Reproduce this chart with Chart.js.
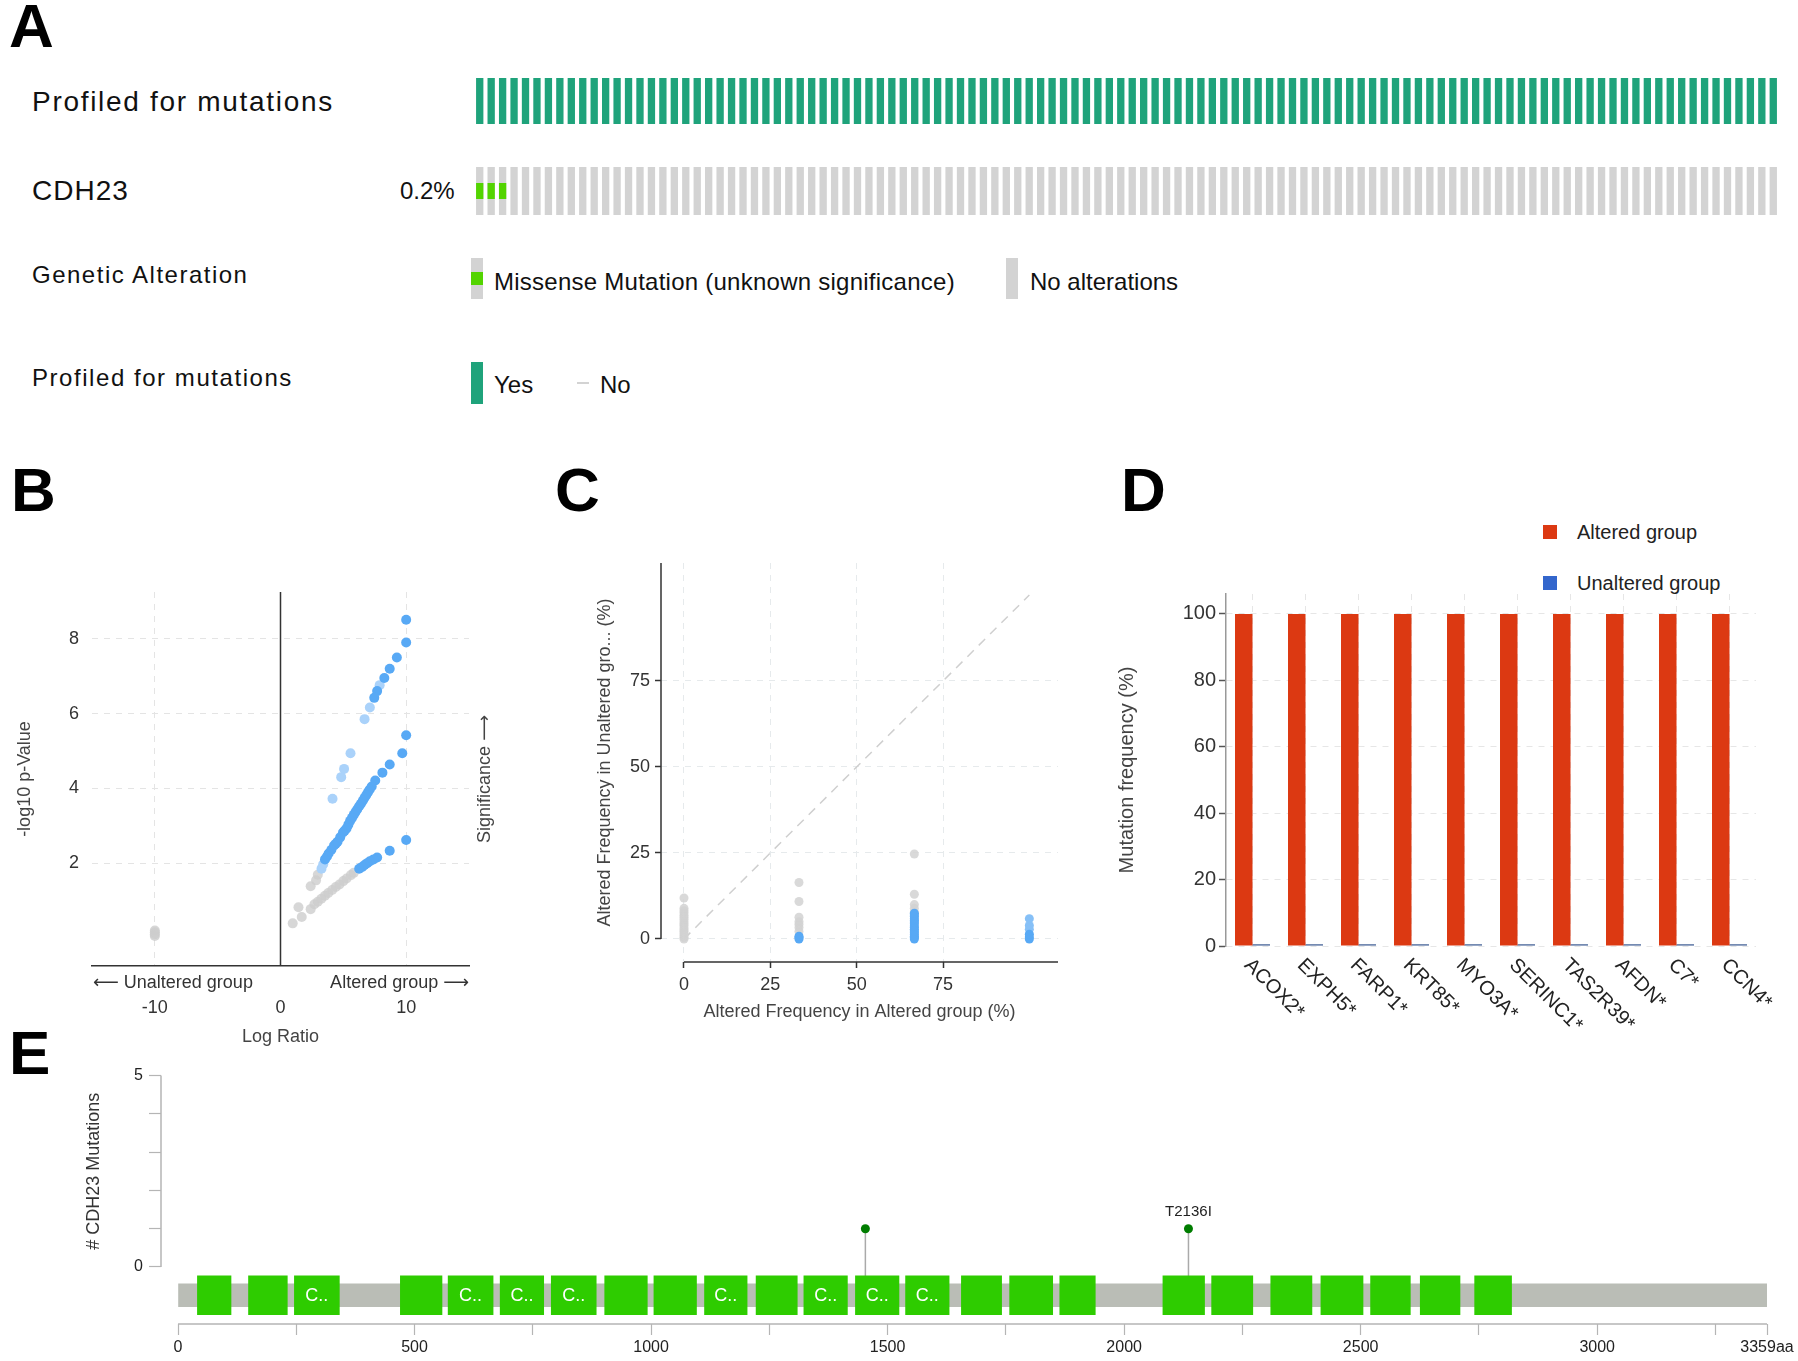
<!DOCTYPE html>
<html lang="en">
<head>
<meta charset="UTF-8">
<title>CDH23 alteration summary</title>
<script src="https://cdn.jsdelivr.net/npm/chart.js@4.4.1/dist/chart.umd.min.js"></script>
<style>
    body {
        margin: 0;
        width: 1798px;
        height: 1361px;
        position: relative;
        overflow: hidden;
        background: #fff;
        font-family: 'Liberation Sans', Arial, sans-serif;
        color: #111;
    }
    .txt { position: absolute; line-height: 1; white-space: nowrap; }
    .panel { position: absolute; line-height: 1; font-size: 62px; font-weight: bold; color: #000; }
    .box { position: absolute; }
    .plot { position: absolute; }
</style>
</head>
<body>
<div class="panel" style="left:9px;top:-5px">A</div>
<div class="panel" style="left:11px;top:459px">B</div>
<div class="panel" style="left:555px;top:459px">C</div>
<div class="panel" style="left:1121px;top:459px">D</div>
<div class="panel" style="left:9px;top:1022px">E</div>

<!-- panel A track labels and legend -->
<div class="txt" style="left:32px;top:88px;font-size:28px;letter-spacing:1.7px">Profiled for mutations</div>
<div class="txt" style="left:32px;top:177px;font-size:28px;letter-spacing:1px">CDH23</div>
<div class="txt" style="left:400px;top:179px;font-size:24px">0.2%</div>
<div class="txt" style="left:32px;top:263px;font-size:24px;letter-spacing:1.5px">Genetic Alteration</div>
<div class="txt" style="left:32px;top:366px;font-size:24px;letter-spacing:1.55px">Profiled for mutations</div>

<div class="box" style="left:471px;top:258px;width:12px;height:41px;background:#d3d3d3"></div>
<div class="box" style="left:471px;top:272px;width:12px;height:13px;background:#53d400"></div>
<div class="txt" style="left:494px;top:270px;font-size:24px;letter-spacing:0.25px">Missense Mutation (unknown significance)</div>
<div class="box" style="left:1006px;top:258px;width:12px;height:41px;background:#d3d3d3"></div>
<div class="txt" style="left:1030px;top:270px;font-size:24px">No alterations</div>

<div class="box" style="left:471px;top:362px;width:12px;height:42px;background:#1fa37b"></div>
<div class="txt" style="left:494px;top:373px;font-size:24px">Yes</div>
<div class="box" style="left:577px;top:382px;width:12px;height:2px;background:#d3d3d3"></div>
<div class="txt" style="left:600px;top:373px;font-size:24px">No</div>

<!-- panel D legend -->
<div class="box" style="left:1543px;top:525px;width:14px;height:14px;background:#dc3912"></div>
<div class="txt" style="left:1577px;top:522px;font-size:20px;color:#222">Altered group</div>
<div class="box" style="left:1543px;top:576px;width:14px;height:14px;background:#3366cc"></div>
<div class="txt" style="left:1577px;top:573px;font-size:20px;color:#222">Unaltered group</div>

<div class="plot" style="left:470px;top:70px;width:1320px;height:160px"><canvas id="oncoprint"></canvas></div>
<div class="plot" style="left:0px;top:560px;width:520px;height:500px"><canvas id="volcano"></canvas></div>
<div class="plot" style="left:540px;top:540px;width:540px;height:520px"><canvas id="freqScatter"></canvas></div>
<div class="plot" style="left:1090px;top:560px;width:708px;height:500px"><canvas id="enrichBars"></canvas></div>
<div class="plot" style="left:0px;top:1060px;width:1798px;height:301px"><canvas id="lollipop"></canvas></div>

<script>
    // ---- A: oncoprint ----
    const sampleCount = 114;
    const missenseSamples = [0, 1, 2];

    // ---- B: volcano (log ratio, -log10 p) ----
    const volcanoSig = [
        {x: 10, y: 8.51}, {x: 10, y: 7.90}, {x: 9.26, y: 7.50}, {x: 8.69, y: 7.20}, {x: 8.26, y: 6.95},
        {x: 7.69, y: 6.60}, {x: 7.46, y: 6.42},
        {x: 10, y: 5.42}, {x: 9.69, y: 4.94}, {x: 8.69, y: 4.64}, {x: 8.11, y: 4.42}, {x: 7.54, y: 4.21},
        {x: 7.26, y: 4.05}, {x: 7.10, y: 3.97}, {x: 6.97, y: 3.90}, {x: 6.83, y: 3.82}, {x: 6.69, y: 3.75},
        {x: 6.55, y: 3.67}, {x: 6.40, y: 3.59}, {x: 6.26, y: 3.52}, {x: 6.11, y: 3.44}, {x: 5.97, y: 3.37},
        {x: 5.83, y: 3.29}, {x: 5.69, y: 3.21}, {x: 5.54, y: 3.13}, {x: 5.40, y: 3.03}, {x: 5.26, y: 2.93},
        {x: 5.11, y: 2.87}, {x: 4.97, y: 2.82}, {x: 4.75, y: 2.69}, {x: 4.54, y: 2.57}, {x: 4.40, y: 2.52},
        {x: 4.26, y: 2.47}, {x: 4.05, y: 2.36}, {x: 3.83, y: 2.26}, {x: 3.70, y: 2.18}, {x: 3.54, y: 2.10},
        {x: 10, y: 2.62}, {x: 8.69, y: 2.33}, {x: 7.69, y: 2.15}, {x: 7.40, y: 2.10}, {x: 7.11, y: 2.05},
        {x: 6.90, y: 2.00}, {x: 6.69, y: 1.95}, {x: 6.50, y: 1.90}, {x: 6.26, y: 1.85}
    ];
    const volcanoWeak = [
        {x: 7.89, y: 6.76}, {x: 7.11, y: 6.16}, {x: 6.69, y: 5.85}, {x: 5.57, y: 4.94}, {x: 5.06, y: 4.52},
        {x: 4.83, y: 4.30}, {x: 4.14, y: 3.72}, {x: 3.40, y: 1.97}, {x: 3.26, y: 1.85}
    ];
    const volcanoNs = [
        {x: 2.97, y: 1.69}, {x: 2.83, y: 1.54}, {x: 2.40, y: 1.38},
        {x: 5.83, y: 1.74}, {x: 5.60, y: 1.68}, {x: 5.26, y: 1.59}, {x: 5.00, y: 1.52}, {x: 4.69, y: 1.43},
        {x: 4.40, y: 1.36}, {x: 4.11, y: 1.28}, {x: 3.80, y: 1.20}, {x: 3.54, y: 1.13}, {x: 3.25, y: 1.05},
        {x: 2.97, y: 0.97}, {x: 2.70, y: 0.90}, {x: 2.40, y: 0.77}, {x: 1.43, y: 0.82}, {x: 1.69, y: 0.56},
        {x: 0.97, y: 0.39},
        {x: -10, y: 0.05}, {x: -10, y: 0.10}, {x: -10, y: 0.15}, {x: -10, y: 0.20}
    ];
    const volcanoXTicks = [-10, 0, 10];
    const volcanoYTicks = [2, 4, 6, 8];

    // ---- C: altered freq in altered vs unaltered group (%) ----
    const freqGray = [
        {x: 0, y: 0}, {x: 0, y: 0.4}, {x: 0, y: 0.9}, {x: 0, y: 1.5}, {x: 0, y: 2.1}, {x: 0, y: 2.6},
        {x: 0, y: 3.2}, {x: 0, y: 3.9}, {x: 0, y: 4.4}, {x: 0, y: 5.0}, {x: 0, y: 5.7}, {x: 0, y: 6.3},
        {x: 0, y: 6.9}, {x: 0, y: 7.6}, {x: 0, y: 8.2}, {x: 0, y: 8.9}, {x: 0, y: 11.9},
        {x: 33.3, y: 2.2}, {x: 33.3, y: 3.3}, {x: 33.3, y: 4.2}, {x: 33.3, y: 5.0}, {x: 33.3, y: 6.3},
        {x: 33.3, y: 10.9}, {x: 33.3, y: 16.4},
        {x: 66.7, y: 7.8}, {x: 66.7, y: 8.9}, {x: 66.7, y: 10.0}, {x: 66.7, y: 13.0}, {x: 66.7, y: 24.7}
    ];
    const freqSig = [
        {x: 33.3, y: 0}, {x: 33.3, y: 0.4}, {x: 33.3, y: 0.8},
        {x: 66.7, y: 0}, {x: 66.7, y: 0.4}, {x: 66.7, y: 0.8}, {x: 66.7, y: 1.3}, {x: 66.7, y: 1.8},
        {x: 66.7, y: 2.3}, {x: 66.7, y: 2.8}, {x: 66.7, y: 3.3}, {x: 66.7, y: 3.8}, {x: 66.7, y: 4.4},
        {x: 66.7, y: 4.9}, {x: 66.7, y: 5.4}, {x: 66.7, y: 5.9}, {x: 66.7, y: 6.5}, {x: 66.7, y: 7.0},
        {x: 66.7, y: 7.5},
        {x: 100, y: 0}, {x: 100, y: 0.55}, {x: 100, y: 1.4}
    ];
    const freqWeak = [{x: 100, y: 2.8}, {x: 100, y: 3.9}, {x: 100, y: 5.9}];
    const freqTicks = [0, 25, 50, 75];
    const diagonalRange = [0, 100];

    // ---- D: enrichment bars ----
    const genes = ['ACOX2*', 'EXPH5*', 'FARP1*', 'KRT85*', 'MYO3A*', 'SERINC1*', 'TAS2R39*', 'AFDN*', 'C7*', 'CCN4*'];
    const alteredFreq = [100, 100, 100, 100, 100, 100, 100, 100, 100, 100];
    const unalteredFreq = [0.5, 0.5, 0.5, 0.5, 0.5, 0.5, 0.5, 0.5, 0.5, 0.5];
    const enrichTicks = [0, 20, 40, 60, 80, 100];

    // ---- E: CDH23 lollipop ----
    const proteinLength = 3359;
    const mutationPos = [1453, 2136];
    const mutationCount = [1, 1];
    const mutationLabels = ['', 'T2136I'];
    const domainStart = [41, 149, 246, 470, 571, 681, 789, 902, 1006, 1113, 1222, 1323, 1432, 1538,
        1656, 1758, 1864, 2082, 2185, 2310, 2416, 2521, 2626, 2741];
    const domainEnd = [112, 231, 341, 558, 666, 773, 884, 992, 1096, 1203, 1309, 1415, 1524, 1630,
        1741, 1849, 1939, 2170, 2272, 2397, 2505, 2605, 2710, 2819];
    const domainLabels = ['', '', 'C..', '', 'C..', 'C..', 'C..', '', '', 'C..', '', 'C..', 'C..', 'C..',
        '', '', '', '', '', '', '', '', '', ''];
    const lollipopXTicks = [0, 250, 500, 750, 1000, 1250, 1500, 1750, 2000, 2250, 2500, 2750, 3000, 3250, 3359];
    const lollipopYTicks = [0, 1, 2, 3, 4, 5];

    const SANS = "'Liberation Sans', Arial, 'DejaVu Sans', sans-serif";

    Chart.defaults.font.family = SANS;
    Chart.defaults.color = '#333';
    Chart.defaults.animation = false;
    Chart.defaults.maintainAspectRatio = false;
    Chart.defaults.plugins.legend.display = false;
    Chart.defaults.plugins.tooltip.enabled = false;

    const fixTicks = list => scale => { scale.ticks = list.map(v => ({value: v})); };

    // ---------- A ----------
    const sampleLabels = Array.from({length: sampleCount}, (_, i) => 'S' + (i + 1));
    // track rows in a 0..137 band (top to bottom)
    const rowProfiled = [0, 46];
    const rowGene = [89, 137];
    const rowMissense = [105, 121];

    new Chart(document.getElementById('oncoprint'), {
        type: 'bar',
        data: {
            labels: sampleLabels,
            datasets: [
                {data: sampleLabels.map((_, i) => missenseSamples.includes(i) ? rowMissense : null), backgroundColor: '#53d400'},
                {data: sampleLabels.map(() => rowGene), backgroundColor: '#d3d3d3'},
                {data: sampleLabels.map(() => rowProfiled), backgroundColor: '#1fa37b'}
            ]
        },
        options: {
            layout: {padding: {left: 4, right: 11, top: 8, bottom: 15}},
            datasets: {bar: {grouped: false, barPercentage: 0.64, categoryPercentage: 1, borderWidth: 0}},
            scales: {
                x: {display: false},
                y: {display: false, reverse: true, min: 0, max: 137}
            }
        }
    });

    // ---------- B ----------
    const volcanoExtras = {
        id: 'volcanoExtras',
        beforeDatasetsDraw(chart) {
            const {ctx, chartArea: a, scales: {x}} = chart;
            const x0 = x.getPixelForValue(0);
            ctx.save();
            ctx.strokeStyle = '#333';
            ctx.lineWidth = 1.5;
            ctx.beginPath();
            ctx.moveTo(x0, a.top);
            ctx.lineTo(x0, a.bottom);
            ctx.stroke();
            ctx.restore();
        },
        afterDraw(chart) {
            const {ctx, chartArea: a} = chart;
            ctx.save();
            ctx.fillStyle = '#333';
            ctx.font = '18px ' + SANS;
            ctx.textBaseline = 'middle';
            ctx.textAlign = 'left';
            ctx.fillText('\u27F5 Unaltered group', a.left + 1, a.bottom + 17);
            ctx.textAlign = 'right';
            ctx.fillText('Altered group \u27F6', a.right, a.bottom + 17);
            ctx.translate(a.right + 16, (a.top + a.bottom) / 2);
            ctx.rotate(-Math.PI / 2);
            ctx.textAlign = 'center';
            ctx.fillStyle = '#444';
            ctx.fillText('Significance \u27F6', 0, 0);
            ctx.restore();
        }
    };

    new Chart(document.getElementById('volcano'), {
        type: 'scatter',
        data: {
            datasets: [
                {data: volcanoSig, backgroundColor: '#58a9f5'},
                {data: volcanoWeak, backgroundColor: '#aad2fa'},
                {data: volcanoNs, backgroundColor: 'rgba(205,205,205,0.8)'}
            ]
        },
        options: {
            layout: {padding: {top: 32, right: 51}},
            elements: {point: {radius: 5, borderWidth: 0}},
            scales: {
                x: {
                    type: 'linear', min: -15, max: 15,
                    afterBuildTicks: fixTicks(volcanoXTicks),
                    afterFit: s => { s.height = 94; },
                    grid: {color: '#e4e4e4', drawTicks: false},
                    border: {display: true, color: '#333', width: 1.5, dash: [6, 6]},
                    ticks: {padding: 31, font: {size: 18}, color: '#333'},
                    title: {display: true, text: 'Log Ratio', font: {size: 18}, color: '#444', padding: {bottom: 12}}
                },
                y: {
                    min: -0.75, max: 9.25,
                    afterBuildTicks: fixTicks(volcanoYTicks),
                    afterFit: s => { s.width = 92; },
                    grid: {color: '#e4e4e4', drawTicks: false},
                    border: {display: false, dash: [6, 6]},
                    ticks: {padding: 13, font: {size: 18}, color: '#333'},
                    title: {display: true, text: '-log10 p-Value', font: {size: 18}, color: '#444', padding: {top: 14}}
                }
            }
        },
        plugins: [volcanoExtras]
    });

    // ---------- C ----------
    const offsetAxes = {
        id: 'offsetAxes',
        afterDraw(chart) {
            const {ctx, chartArea: a, scales: {x, y}} = chart;
            ctx.save();
            ctx.strokeStyle = '#333';
            ctx.lineWidth = 1.5;
            ctx.beginPath();
            ctx.moveTo(a.left, a.top);
            ctx.lineTo(a.left, y.getPixelForValue(0));
            ctx.moveTo(x.getPixelForValue(0), a.bottom);
            ctx.lineTo(a.right, a.bottom);
            ctx.stroke();
            ctx.restore();
        }
    };

    new Chart(document.getElementById('freqScatter'), {
        type: 'scatter',
        data: {
            datasets: [
                {data: freqSig, backgroundColor: '#58a9f5'},
                {data: freqWeak, backgroundColor: '#86c0f7'},
                {data: freqGray, backgroundColor: 'rgba(210,210,210,0.85)'},
                {
                    type: 'line',
                    data: diagonalRange.map(v => ({x: v, y: v})),
                    borderColor: '#cfcfcf', borderWidth: 1.5, borderDash: [9, 7], pointRadius: 0, fill: false
                }
            ]
        },
        options: {
            layout: {padding: {top: 23, right: 22}},
            elements: {point: {radius: 4.5, borderWidth: 0}},
            scales: {
                x: {
                    type: 'linear', min: -6.66, max: 108.3,
                    afterBuildTicks: fixTicks(freqTicks),
                    afterFit: s => { s.height = 98; },
                    grid: {color: '#e6eaec', tickColor: '#333', tickLength: 6, tickWidth: 1.5},
                    border: {display: false, dash: [6, 6]},
                    ticks: {padding: 6, font: {size: 18}, color: '#333'},
                    title: {display: true, text: 'Altered Frequency in Altered group (%)', font: {size: 18}, color: '#444', padding: {bottom: 37}}
                },
                y: {
                    min: -6.7, max: 109.3,
                    afterBuildTicks: fixTicks(freqTicks),
                    afterFit: s => { s.width = 121; },
                    grid: {color: '#e6eaec', tickColor: '#333', tickLength: 6, tickWidth: 1.5},
                    border: {display: false, dash: [6, 6]},
                    ticks: {padding: 5, font: {size: 18}, color: '#333'},
                    title: {display: true, text: 'Altered Frequency in Unaltered gro... (%)', font: {size: 18}, color: '#444', padding: {top: 54}}
                }
            }
        },
        plugins: [offsetAxes]
    });

    // ---------- D ----------
    const slantLabels = {
        id: 'slantLabels',
        afterDraw(chart) {
            const {ctx, chartArea: a, scales: {x}} = chart;
            ctx.save();
            ctx.fillStyle = '#222';
            ctx.font = '20px ' + SANS;
            ctx.textAlign = 'left';
            ctx.textBaseline = 'top';
            genes.forEach((g, i) => {
                ctx.save();
                ctx.translate(x.getPixelForValue(i) + 2, a.bottom + 9);
                ctx.rotate(Math.PI / 4);
                ctx.fillText(g, 0, 0);
                ctx.restore();
            });
            ctx.restore();
        }
    };

    new Chart(document.getElementById('enrichBars'), {
        type: 'bar',
        data: {
            labels: genes,
            datasets: [
                {label: 'Altered group', data: alteredFreq, backgroundColor: '#dc3912'},
                {label: 'Unaltered group', data: unalteredFreq, backgroundColor: '#2e4f8a'}
            ]
        },
        options: {
            layout: {padding: {top: 34, right: 42}},
            datasets: {bar: {barPercentage: 1, categoryPercentage: 0.66, borderWidth: 0}},
            scales: {
                x: {
                    afterFit: s => { s.height = 114; },
                    grid: {color: '#e6e6e6', offset: false, drawTicks: false},
                    border: {display: false, dash: [6, 6]},
                    ticks: {display: false}
                },
                y: {
                    min: 0, max: 106,
                    afterBuildTicks: fixTicks(enrichTicks),
                    afterFit: s => { s.width = 136; },
                    grid: {color: '#e6e6e6', tickColor: '#555', tickLength: 7, tickWidth: 1.5},
                    border: {display: true, color: '#999', width: 1.5, dash: [6, 6]},
                    ticks: {padding: 3, font: {size: 20}, color: '#333'},
                    title: {display: true, text: 'Mutation frequency (%)', font: {size: 20}, color: '#444', padding: {top: 25}}
                }
            }
        },
        plugins: [slantLabels]
    });

    // ---------- E ----------
    const trackLevel = -0.74;
    const domainThickness = 39;

    const lollipopExtras = {
        id: 'lollipopExtras',
        beforeDatasetsDraw(chart) {
            const {ctx, scales: {y}} = chart;
            const base = y.getPixelForValue(trackLevel);
            const points = chart.getDatasetMeta(0).data;
            ctx.save();
            ctx.strokeStyle = '#aaa';
            ctx.lineWidth = 1.5;
            points.forEach(p => {
                ctx.beginPath();
                ctx.moveTo(p.x, p.y);
                ctx.lineTo(p.x, base);
                ctx.stroke();
            });
            ctx.restore();
        },
        afterDraw(chart) {
            const {ctx, chartArea: a, scales: {x, y}} = chart;
            ctx.save();
            // axis lines
            ctx.strokeStyle = '#b5b5b5';
            ctx.lineWidth = 1.5;
            ctx.beginPath();
            ctx.moveTo(a.left, y.getPixelForValue(0));
            ctx.lineTo(a.left, y.getPixelForValue(5));
            ctx.moveTo(x.getPixelForValue(0), a.bottom);
            ctx.lineTo(x.getPixelForValue(proteinLength), a.bottom);
            ctx.stroke();
            // domain labels
            ctx.fillStyle = '#fff';
            ctx.font = '18px ' + SANS;
            ctx.textAlign = 'center';
            ctx.textBaseline = 'middle';
            chart.getDatasetMeta(1).data.forEach((bar, i) => {
                if (domainLabels[i]) ctx.fillText(domainLabels[i], (bar.x + bar.base) / 2, bar.y + 1);
            });
            // mutation labels
            ctx.fillStyle = '#222';
            ctx.font = '15px ' + SANS;
            ctx.textBaseline = 'alphabetic';
            chart.getDatasetMeta(0).data.forEach((p, i) => {
                if (mutationLabels[i]) ctx.fillText(mutationLabels[i], p.x, p.y - 13);
            });
            // y title
            ctx.fillStyle = '#333';
            ctx.font = '18px ' + SANS;
            ctx.translate(94, y.getPixelForValue(2.5));
            ctx.rotate(-Math.PI / 2);
            ctx.textBaseline = 'middle';
            ctx.fillText('# CDH23 Mutations', 0, 0);
            ctx.restore();
        }
    };

    new Chart(document.getElementById('lollipop'), {
        type: 'scatter',
        data: {
            datasets: [
                {
                    data: mutationPos.map((p, i) => ({x: p, y: mutationCount[i]})),
                    backgroundColor: '#007d00', pointRadius: 4.5, borderWidth: 0
                },
                {
                    type: 'bar', indexAxis: 'y', grouped: false,
                    data: domainStart.map((s, i) => ({x: [s, domainEnd[i]], y: trackLevel})),
                    backgroundColor: '#2ecc00', borderWidth: 0, barThickness: domainThickness
                },
                {
                    type: 'bar', indexAxis: 'y', grouped: false,
                    data: [{x: [0, proteinLength], y: trackLevel}],
                    backgroundColor: '#babdb6', borderWidth: 0, barThickness: 23
                }
            ]
        },
        options: {
            layout: {padding: {top: 14, right: 31}},
            scales: {
                x: {
                    type: 'linear', min: -36, max: proteinLength, offset: false, beginAtZero: false,
                    afterBuildTicks: fixTicks(lollipopXTicks),
                    afterFit: s => { s.height = 37; },
                    grid: {offset: false, drawOnChartArea: false, tickColor: '#b5b5b5', tickLength: 11, tickWidth: 1.2},
                    border: {display: false},
                    ticks: {
                        padding: 3, autoSkip: false, maxRotation: 0, font: {size: 16}, color: '#222',
                        callback: v => v === proteinLength ? v + 'aa' : (v % 500 === 0 ? v : '')
                    }
                },
                y: {
                    type: 'linear', min: -1.49, max: 5, offset: false,
                    afterBuildTicks: fixTicks(lollipopYTicks),
                    afterFit: s => { s.width = 161; },
                    grid: {offset: false, drawOnChartArea: false, tickColor: '#b5b5b5', tickLength: 12, tickWidth: 1.2},
                    border: {display: false},
                    ticks: {
                        padding: 6, font: {size: 16}, color: '#222',
                        callback: v => (v === 0 || v === 5) ? v : ''
                    }
                }
            }
        },
        plugins: [lollipopExtras]
    });
</script>
</body>
</html>
